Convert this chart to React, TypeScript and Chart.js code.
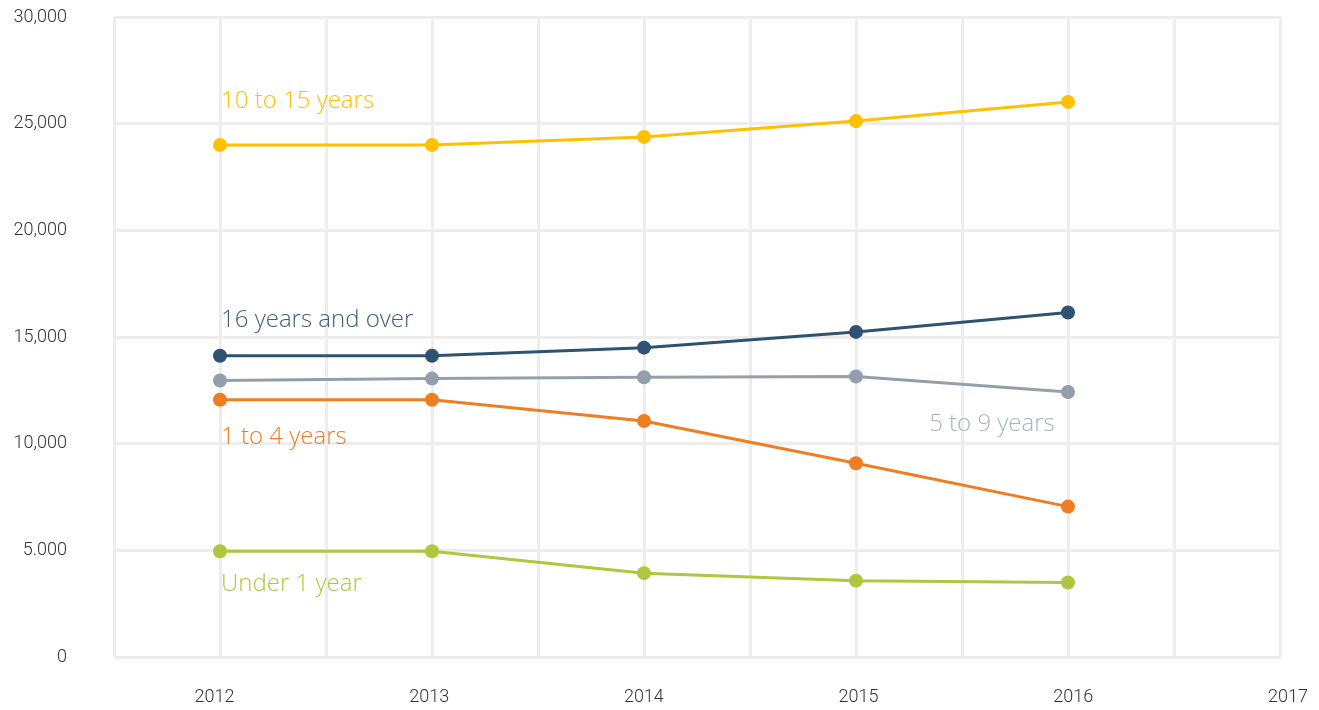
import React, { useEffect, useRef } from "react";
import { Chart, registerables } from "chart.js";

Chart.register(...registerables);

const years = [2012, 2013, 2014, 2015, 2016];
const xTickLabels = [2012, 2013, 2014, 2015, 2016, 2017];
const yTickLabels: Record<number, string> = {
  0: "0",
  5000: "5.000",
  10000: "10,000",
  15000: "15,000",
  20000: "20,000",
  25000: "25,000",
  30000: "30,000",
};

const tenToFifteen = [24000, 24000, 24380, 25120, 26020];
const sixteenPlus = [14120, 14120, 14500, 15240, 16150];
const fiveToNine = [12960, 13050, 13110, 13150, 12420];
const oneToFour = [12060, 12060, 11060, 9080, 7050];
const underOne = [4960, 4960, 3930, 3580, 3490];

const seriesNames = ["10 to 15 years", "16 years and over", "5 to 9 years", "1 to 4 years", "Under 1 year"];
const seriesColors = ["#FFC000", "#2F5271", "#959FAC", "#EF7D22", "#AFC63F"];
const labelColors = ["#FFC000", "#3E5F7C", "#A9B3C0", "#EF7D22", "#AFC63F"];
// label anchors in data units: [year, value]
const labelAnchors: [number, number][] = [
  [2012.005, 26060],
  [2012.005, 15800],
  [2015.345, 10920],
  [2012.005, 10310],
  [2012.005, 3420],
];

export default function App() {
  const ref = useRef<HTMLCanvasElement>(null);
  useEffect(() => {
    document.body.style.margin = "0";
    const seriesValues = [tenToFifteen, sixteenPlus, fiveToNine, oneToFour, underOne];
    const labelPlugin = {
      id: "seriesLabels",
      afterDatasetsDraw(chart: any) {
        const ctx = chart.ctx;
        const xs = chart.scales.x;
        const ys = chart.scales.y;
        ctx.save();
        ctx.font = "300 24px 'Open Sans', Lato, sans-serif";
        ctx.textAlign = "left";
        ctx.textBaseline = "middle";
        seriesNames.forEach((name, i) => {
          const [yr, v] = labelAnchors[i];
          ctx.fillStyle = labelColors[i];
          ctx.fillText(name, xs.getPixelForValue(yr), ys.getPixelForValue(v));
        });
        ctx.restore();
      },
    };
    const chart = new Chart(ref.current!, {
      type: "line",
      data: {
        datasets: seriesNames.map((name, i) => ({
          label: name,
          data: years.map((y, j) => ({ x: y, y: seriesValues[i][j] })),
          borderColor: seriesColors[i],
          backgroundColor: seriesColors[i],
          pointBackgroundColor: seriesColors[i],
          pointBorderWidth: 0,
          pointRadius: 7,
          borderWidth: 3,
          tension: 0,
        })),
      },
      options: {
        animation: false,
        responsive: false,
        maintainAspectRatio: false,
        layout: { padding: { top: 17, right: 39, left: 0, bottom: 0 } },
        plugins: { legend: { display: false }, tooltip: { enabled: false } },
        scales: {
          x: {
            type: "linear",
            min: 2011.5,
            max: 2017,
            border: { display: false },
            grid: { color: "#EDEDED", lineWidth: 3, drawTicks: false },
            ticks: { display: false, stepSize: 0.5 },
            afterFit: (s: any) => {
              s.height = 0;
              s.paddingLeft = 0;
              s.paddingRight = 0;
              s.paddingTop = 0;
              s.paddingBottom = 0;
            },
          },
          x2: {
            type: "linear",
            position: "bottom",
            min: 2011.532,
            max: 2016.963,
            border: { display: false },
            grid: { display: false, drawTicks: false },
            afterBuildTicks: (s: any) => {
              s.ticks = xTickLabels.map((v) => ({ value: v }));
            },
            ticks: {
              autoSkip: false,
              maxRotation: 0,
              padding: 30,
              color: "#333333",
              font: { family: "Roboto, sans-serif", size: 18, weight: "300" as any },
              callback: (v: any) => String(v),
            },
            afterFit: (s: any) => {
              s.height = 53;
              s.paddingLeft = 0;
              s.paddingRight = 0;
              s.paddingTop = 0;
              s.paddingBottom = 0;
            },
          },
          y: {
            min: 0,
            max: 30000,
            border: { display: false },
            grid: { color: "#EDEDED", lineWidth: 3, drawTicks: false },
            ticks: {
              stepSize: 5000,
              padding: 47,
              color: "#333333",
              font: { family: "Roboto, sans-serif", size: 18, weight: "300" as any },
              callback: (v: any) => yTickLabels[v as number] ?? "",
            },
            afterFit: (s: any) => {
              s.width = 114;
              s.paddingLeft = 0;
              s.paddingRight = 0;
              s.paddingTop = 0;
              s.paddingBottom = 0;
            },
          },
        },
      } as any,
      plugins: [labelPlugin],
    });
    return () => chart.destroy();
  }, []);
  return (
    <div style={{ width: 1319, height: 710, position: "relative", background: "#fff" }}>
      <canvas ref={ref} width={1319} height={710} style={{ display: "block" }} />
    </div>
  );
}
